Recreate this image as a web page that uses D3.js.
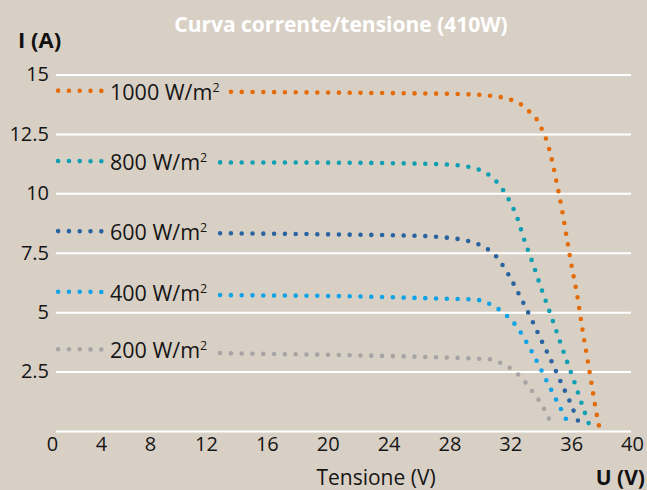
<!DOCTYPE html>
<html>
<head>
<meta charset="utf-8">
<script src="https://cdn.jsdelivr.net/npm/d3@7"></script>
<style>
  html, body { margin: 0; padding: 0; background: #D9D0C5; }
  svg { display: block; }
  text { font-family: "Open Sans", "Noto Sans", sans-serif; }
</style>
</head>
<body>
<svg id="chart" width="647" height="490"></svg>
<script>
// ---------- data ----------
const voltageTicks = [0, 4, 8, 12, 16, 20, 24, 28, 32, 36, 40];
const currentTicks = [0, 2.5, 5, 7.5, 10, 12.5, 15];
const irradianceLabels = ["1000 W/m", "800 W/m", "600 W/m", "400 W/m", "200 W/m"];

// [voltage V, current A]
const curve1000 = [[0.5,14.32],[4,14.31],[13.7,14.27],[20,14.24],[25,14.21],[29,14.17],[30.5,14.12],[31.5,14.03],[32.2,13.9],[32.8,13.7],[33.3,13.41],[33.8,13.05],[34.1,12.66],[34.4,12.2],[34.7,11.5],[35.0,10.6],[35.4,9.3],[35.65,8.37],[36.0,7.05],[36.4,5.7],[36.72,4.36],[37.07,3.03],[37.42,1.68],[37.65,0.8],[37.85,0.15]];
const curve800  = [[0.5,11.36],[4,11.35],[13.3,11.3],[20.5,11.29],[27.1,11.23],[28.6,11.18],[29.3,11.11],[30.0,10.98],[30.63,10.76],[31.15,10.45],[31.57,10.1],[31.94,9.69],[32.47,8.95],[32.89,8.09],[33.37,7.25],[34.07,5.94],[34.77,4.68],[35.47,3.39],[36.18,2.12],[36.87,0.83],[37.25,0.15]];
const curve600  = [[0.5,8.41],[4,8.4],[13.3,8.32],[20.57,8.27],[26.4,8.2],[27.91,8.13],[29.27,7.99],[29.93,7.85],[30.54,7.64],[31.05,7.36],[31.46,7.01],[31.84,6.63],[32.16,6.26],[32.73,5.55],[33.39,4.71],[34.0,3.87],[34.64,3.03],[35.23,2.19],[35.85,1.33],[36.41,0.49],[36.68,0.15]];
const curve400  = [[0.5,5.86],[4,5.85],[13.3,5.72],[20.26,5.68],[28.92,5.55],[29.62,5.54],[30.32,5.43],[30.98,5.23],[31.57,4.96],[32.12,4.63],[32.58,4.25],[32.95,3.86],[33.32,3.45],[33.94,2.69],[34.6,1.84],[35.27,1.0],[35.62,0.56],[35.93,0.15]];
const curve200  = [[0.5,3.44],[4,3.43],[13.5,3.27],[20.48,3.2],[29.18,3.06],[29.99,3.04],[30.67,3.02],[31.35,2.87],[31.99,2.65],[32.53,2.37],[33.02,2.03],[33.45,1.67],[33.87,1.3],[34.24,0.91],[34.55,0.5],[34.83,0.15]];

// ---------- drawing ----------
const bg = "#D9D0C5";
const colors = ["#E36C09", "#0E9FB3", "#2A64A0", "#0EA3E6", "#A6A5A4"];
const curves = [curve1000, curve800, curve600, curve400, curve200];

const svg = d3.select("#chart");
svg.append("rect").attr("width", 647).attr("height", 490).attr("fill", bg);

const x = d3.scaleLinear().domain([0, 4, 8, 12, 40]).range([52, 101, 150, 206, 632]);
const y = d3.scaleLinear().domain([0, 15]).range([431, 74.5]);

const gridLeft = 56, gridRight = 631;

// Y axis with gridlines
const yAxis = d3.axisLeft(y)
  .tickValues(currentTicks)
  .tickSize(-(gridRight - gridLeft))
  .tickPadding(7)
  .tickFormat(d => d === 0 ? "" : String(d));
const gy = svg.append("g").attr("transform", `translate(${gridLeft},0)`).call(yAxis);
gy.select(".domain").remove();
gy.selectAll(".tick line").attr("stroke", "#fff").attr("stroke-width", 2);
gy.selectAll(".tick text").attr("fill", "#151515").style("font-size", "20px")
  .style("font-family", "'Open Sans', sans-serif");

// X axis labels
const xAxis = d3.axisBottom(x).tickValues(voltageTicks).tickSize(0).tickPadding(0)
  .tickFormat(d => String(d));
const gx = svg.append("g").attr("transform", "translate(0,437)").call(xAxis);
gx.select(".domain").remove();
gx.selectAll(".tick text").attr("fill", "#151515").style("font-size", "20px")
  .style("font-family", "'Open Sans', sans-serif");

// curves
const line = d3.line().x(d => x(d[0])).y(d => y(d[1])).curve(d3.curveMonotoneX);
const curveG = svg.append("g");
curves.forEach((c, i) => {
  curveG.append("path")
    .attr("d", line(c))
    .attr("fill", "none")
    .attr("stroke", colors[i])
    .attr("stroke-width", 4.6)
    .attr("stroke-linecap", "round")
    .attr("stroke-dasharray", "0 10.8");
});

// irradiance labels with background boxes
curves.forEach((c, i) => {
  const g = svg.append("g");
  const t = g.append("text")
    .attr("x", 110)
    .attr("y", y(c[0][1]) + 9)
    .attr("fill", "#151515")
    .style("font-size", "21.5px");
  t.append("tspan").text(irradianceLabels[i]);
  t.append("tspan").text("2").attr("dy", -8).style("font-size", "12.5px");
  const bb = t.node().getBBox();
  g.insert("rect", "text")
    .attr("x", bb.x - 5).attr("y", bb.y)
    .attr("width", bb.width + 10).attr("height", bb.height)
    .attr("fill", bg);
});

// title and axis titles
svg.append("text").attr("x", 341).attr("y", 32).attr("text-anchor", "middle")
  .attr("fill", "#fff").style("font-size", "21px").style("font-weight", "bold")
  .text("Curva corrente/tensione (410W)");
svg.append("text").attr("x", 18).attr("y", 48)
  .attr("fill", "#111").style("font-size", "22px").style("font-weight", "bold")
  .text("I (A)");
svg.append("text").attr("x", 376).attr("y", 485).attr("text-anchor", "middle")
  .attr("fill", "#151515").style("font-size", "21px")
  .text("Tensione (V)");
svg.append("text").attr("x", 645).attr("y", 485).attr("text-anchor", "end")
  .attr("fill", "#111").style("font-size", "21px").style("font-weight", "bold")
  .text("U (V)");
</script>
</body>
</html>
